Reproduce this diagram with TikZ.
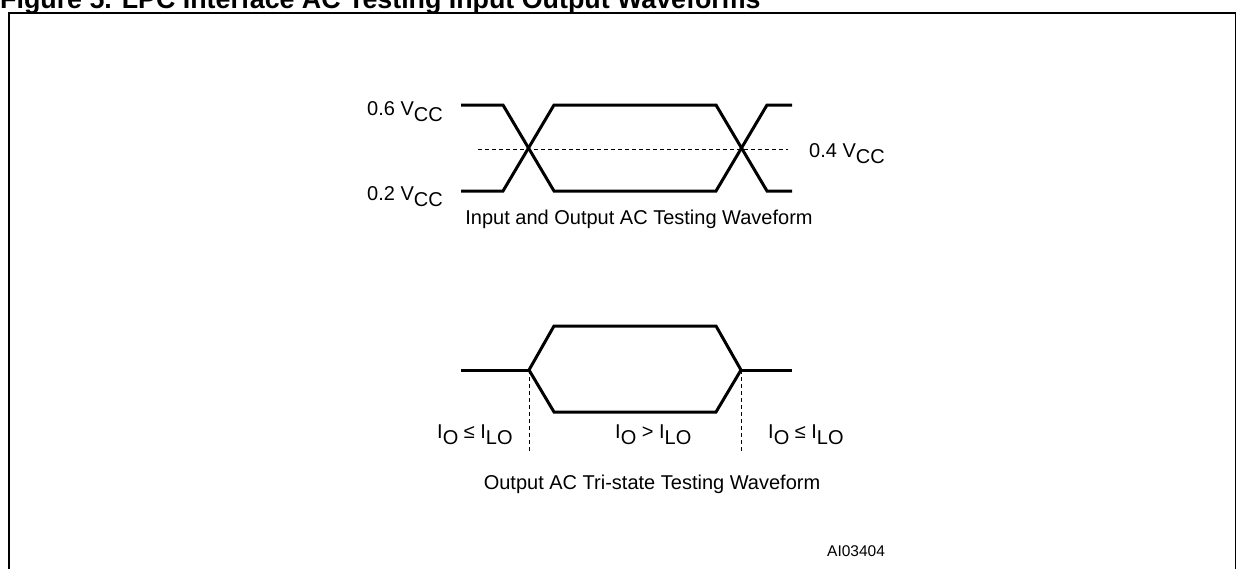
\documentclass[tikz,border=0pt]{standalone}
\usepackage{fontspec}
\setmainfont{Liberation Sans}
\usetikzlibrary{positioning,calc}
\newcommand{\lowsub}[1]{\raisebox{-0.3em}{#1}}

\begin{document}
\begin{tikzpicture}[
    x=1pt, y=-1pt,
    wave/.style={line width=3pt, line join=miter},
    guide/.style={line width=1pt, dash pattern=on 4pt off 3pt},
    every node/.style={inner sep=0pt, font=\fontsize{20}{23}\selectfont}
]
    \useasboundingbox (0,0) rectangle (1236,568);
    % title and frame
    \node[anchor=base west, font=\bfseries\fontsize{26.8}{30}\selectfont] (title) at (0,8)
        {Figure 5. LPC Interface AC Testing Input Output Waveforms};
    \draw[line width=2pt] (9,13) rectangle (1236,620);

    % input and output waveform
    \coordinate (hiL) at (461,105);
    \coordinate (loL) at (461,191);
    \draw[guide] (478,149) -- (788,149);
    \draw[wave] (hiL) -- (503,105) -- (554,191) -- (716,191) -- (767,105) -- (792,105);
    \draw[wave] (loL) -- (503,191) -- (554,105) -- (716,105) -- (767,191) -- (792,191);
    \node[anchor=base east] (vhi) at (443,115) {0.6 V\lowsub{CC}};
    \node[anchor=base east] (vlo) at (443,200) {0.2 V\lowsub{CC}};
    \node[anchor=base west] (vmid) at (809,157) {0.4 V\lowsub{CC}};
    \node[anchor=base] (cap1) at (639,224) {Input and Output AC Testing Waveform};

    % tri-state waveform
    \coordinate (offL) at (529,370);
    \coordinate (offR) at (741,370);
    \draw[wave] (461,370) -- (offL);
    \draw[wave] (offR) -- (792,370);
    \draw[wave] (offL) -- (554,326) -- (716,326) -- (offR) -- (716,412) -- (554,412) -- cycle;
    \draw[guide] (offL) -- (529,453);
    \draw[guide] (offR) -- (741,453);
    \node[anchor=base west] (offA) at (437,438) {I\lowsub{O} ≤ I\lowsub{LO}};
    \node[anchor=base west] (onB) at (615,438) {I\lowsub{O} > I\lowsub{LO}};
    \node[anchor=base west] (offC) at (768,438) {I\lowsub{O} ≤ I\lowsub{LO}};
    \node[anchor=base] (cap2) at (652,489) {Output AC Tri-state Testing Waveform};

    \node[anchor=base west, font=\fontsize{15.5}{18}\selectfont] (code) at (827,556) {AI03404};
\end{tikzpicture}
\end{document}
